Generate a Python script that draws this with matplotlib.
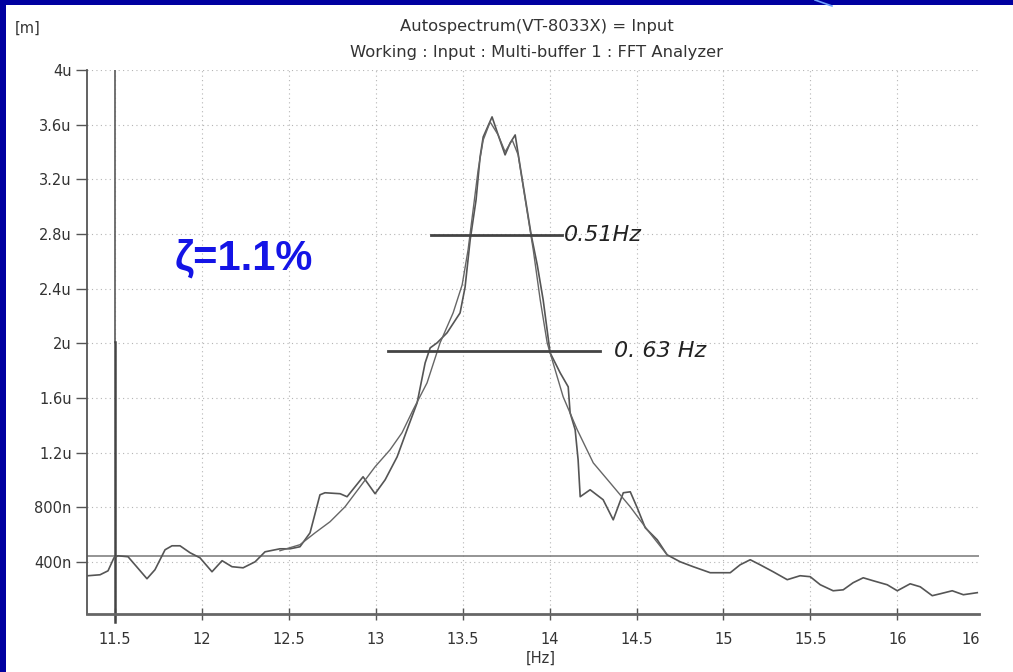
import matplotlib
matplotlib.use("Agg")
import matplotlib.pyplot as plt
from matplotlib.patches import Rectangle
from matplotlib.lines import Line2D

# measured autospectrum (Hz, micro-metres)
freq = [11.345, 11.414, 11.460, 11.494, 11.517, 11.575, 11.615, 11.684, 11.730, 11.788,
        11.828, 11.874, 11.932, 11.989, 12.058, 12.116, 12.173, 12.237, 12.306, 12.363,
        12.449, 12.507, 12.564, 12.622, 12.679, 12.708, 12.795, 12.835, 12.927, 12.996,
        13.054, 13.123, 13.180, 13.238, 13.284, 13.313, 13.353, 13.410, 13.485, 13.514,
        13.543, 13.577, 13.600, 13.618, 13.669, 13.704, 13.744, 13.773, 13.802, 13.831,
        13.871, 13.894, 13.929, 13.963, 14.003, 14.061, 14.107, 14.118, 14.147, 14.164,
        14.176, 14.233, 14.308, 14.366, 14.424, 14.464, 14.504, 14.550, 14.619, 14.676,
        14.751, 14.826, 14.924, 15.039, 15.096, 15.154, 15.211, 15.286, 15.367, 15.441,
        15.499, 15.557, 15.631, 15.689, 15.746, 15.804, 15.862, 15.942, 16.000, 16.074,
        16.132, 16.201, 16.247, 16.316, 16.380, 16.460]
amp = [0.300, 0.307, 0.336, 0.431, 0.446, 0.439, 0.380, 0.278, 0.344, 0.490,
       0.519, 0.519, 0.468, 0.431, 0.329, 0.410, 0.366, 0.358, 0.402, 0.475,
       0.497, 0.497, 0.512, 0.614, 0.892, 0.907, 0.900, 0.878, 1.024, 0.900,
       1.002, 1.170, 1.368, 1.565, 1.857, 1.967, 2.004, 2.077, 2.223, 2.413,
       2.757, 3.050, 3.364, 3.510, 3.657, 3.525, 3.379, 3.466, 3.525, 3.291,
       2.976, 2.794, 2.574, 2.318, 1.931, 1.784, 1.682, 1.492, 1.368, 1.148,
       0.878, 0.929, 0.856, 0.709, 0.907, 0.914, 0.797, 0.651, 0.563, 0.453,
       0.402, 0.366, 0.322, 0.322, 0.380, 0.417, 0.380, 0.329, 0.271, 0.300,
       0.293, 0.234, 0.190, 0.197, 0.249, 0.285, 0.263, 0.234, 0.190, 0.241,
       0.219, 0.154, 0.168, 0.190, 0.161, 0.176]

# smoother curve traced over the peak
fit_freq = [12.449, 12.564, 12.651, 12.737, 12.823, 12.910, 12.996, 13.082, 13.151, 13.215,
            13.295, 13.370, 13.445, 13.497, 13.531, 13.560, 13.589, 13.618, 13.658, 13.704,
            13.744, 13.785, 13.819, 13.860, 13.906, 13.946, 13.986, 14.032, 14.078, 14.159,
            14.251, 14.348, 14.464, 14.562, 14.676]
fit_amp = [0.483, 0.527, 0.614, 0.695, 0.804, 0.951, 1.097, 1.221, 1.346, 1.514,
           1.711, 2.004, 2.223, 2.428, 2.684, 2.976, 3.269, 3.488, 3.620, 3.525,
           3.401, 3.488, 3.379, 3.050, 2.684, 2.318, 2.004, 1.806, 1.609, 1.368,
           1.126, 0.980, 0.804, 0.636, 0.453]

ytick_vals = [0.4, 0.8, 1.2, 1.6, 2.0, 2.4, 2.8, 3.2, 3.6, 4.0]
ytick_labels = ['400n', '800n', '1.2u', '1.6u', '2u', '2.4u', '2.8u', '3.2u', '3.6u', '4u']
xtick_vals = [11.5, 12, 12.5, 13, 13.5, 14, 14.5, 15, 15.5, 16]
xtick_labels = ['11.5', '12', '12.5', '13', '13.5', '14', '14.5', '15', '15.5', '16']

# half-power bandwidth marks: (start, end, level, label, label start)
bw_lines = [(13.32, 14.07, 2.79, '0.51Hz', 14.08), (13.07, 14.29, 1.945, '0. 63 Hz', 14.37)]
ref_level = 0.446
marker_freq = 11.5

fig = plt.figure(figsize=(10.13, 6.72), dpi=100, facecolor='#0000a0')
fig.patches.append(Rectangle((6 / 1013, 0), 1, 667 / 672, transform=fig.transFigure,
                             facecolor='white', edgecolor='none', zorder=-10))
fig.lines.append(Line2D([815 / 1013, 832 / 1013], [1, 666 / 672], transform=fig.transFigure,
                        color='#6fa0ff', lw=1.2, zorder=-5))

ax = fig.add_axes([87 / 1013, 58 / 672, 892 / 1013, 544 / 672])
ax.set_facecolor('none')
ax.set_xlim(11.339, 16.47)
ax.set_ylim(0.02, 4.0)

for xv in xtick_vals:
    ax.axvline(xv, color='#b5b5b5', lw=0.8, ls=(0, (1, 3)), zorder=1)
for yv in ytick_vals:
    ax.axhline(yv, color='#b5b5b5', lw=0.8, ls=(0, (1, 3)), zorder=1)

ax.axhline(ref_level, color='#777777', lw=1.1, zorder=2)
# marker line: lighter upper part, heavier lower part
ax.axvline(marker_freq, ymin=0.5, ymax=1.0, color='#666666', lw=1.3, zorder=2)
ax.axvline(marker_freq, ymin=-0.015, ymax=0.5, color='#444444', lw=1.8, zorder=2,
           clip_on=False)

ax.plot(freq, amp, color='#555555', lw=1.2, zorder=3)
ax.plot(fit_freq, fit_amp, color='#666666', lw=1.0, zorder=3)

for x0, x1, lev, lab, xt in bw_lines:
    ax.plot([x0, x1], [lev, lev], color='#444444', lw=2.0, zorder=4)
    ax.text(xt, lev, lab, fontsize=16, style='italic', color='#222222',
            va='center', ha='left')

ax.text(12.24, 2.62, 'ζ=1.1%', fontsize=30, fontweight='bold', color='#1414e6',
        family='Liberation Sans', ha='center', va='center')

for s in ['top', 'right']:
    ax.spines[s].set_visible(False)
ax.spines['left'].set_color('#555555')
ax.spines['bottom'].set_color('#666666')
ax.spines['bottom'].set_linewidth(2.0)
ax.spines['left'].set_linewidth(1.3)

ax.set_yticks(ytick_vals)
ax.set_yticklabels(ytick_labels)
ax.set_xticks(xtick_vals)
ax.set_xticklabels(xtick_labels)
ax.tick_params(axis='y', direction='out', length=8, width=1, color='#555555', pad=3,
               labelsize=10.5, labelcolor='#333333')
ax.tick_params(axis='x', direction='inout', length=8, width=1, color='#555555', pad=9,
               labelsize=10.5, labelcolor='#333333')
ax.annotate('16', xy=(16.42, 0), xycoords=ax.get_xaxis_transform(), xytext=(0, -13),
            textcoords='offset points', ha='center', va='top', fontsize=10.5, color='#333333')

fig.text(537 / 1013, 1 - 27 / 672, 'Autospectrum(VT-8033X) = Input', ha='center', va='center',
         fontsize=11.8, color='#333333')
fig.text(537 / 1013, 1 - 53 / 672, 'Working : Input : Multi-buffer 1 : FFT Analyzer',
         ha='center', va='center', fontsize=11.8, color='#333333')
fig.text(15 / 1013, 1 - 28 / 672, '[m]', ha='left', va='center', fontsize=10.5, color='#333333')
fig.text(541 / 1013, 1 - 658 / 672, '[Hz]', ha='center', va='center', fontsize=10.5,
         color='#333333')

fig.savefig('out.png', dpi=100, facecolor=fig.get_facecolor())
